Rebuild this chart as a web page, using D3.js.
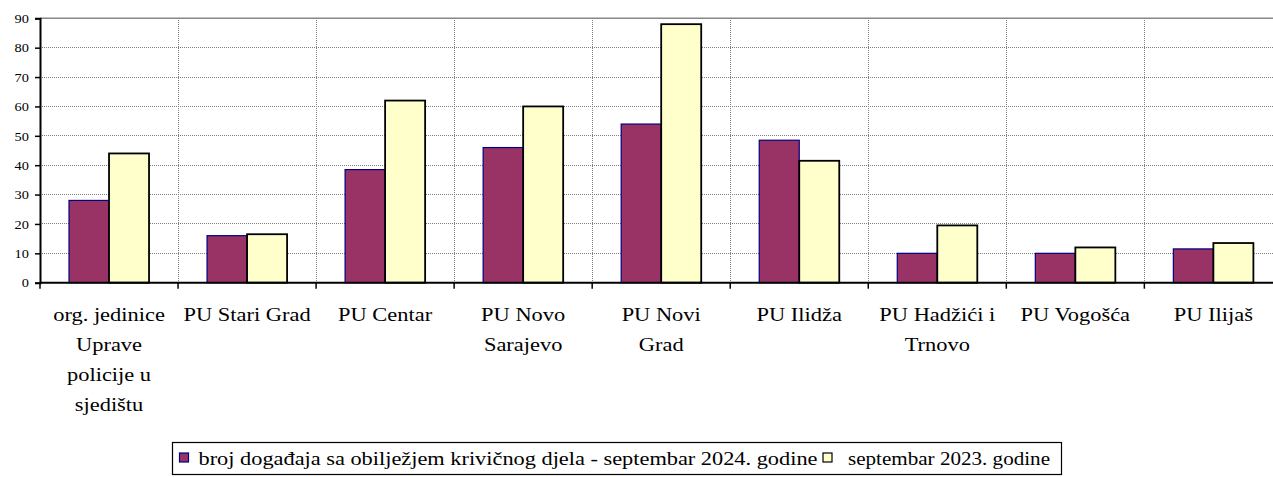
<!DOCTYPE html>
<html>
<head>
<meta charset="utf-8">
<script src="https://cdn.jsdelivr.net/npm/d3@7"></script>
<style>
  html, body { margin: 0; padding: 0; background: #fff; }
  svg { display: block; }
</style>
</head>
<body>
<svg id="chart" width="1273" height="477" font-family="Liberation Serif, DejaVu Serif, serif"></svg>
<script>
// ---- data ----
const categories = [
  "org. jedinice Uprave policije u sjedištu",
  "PU Stari Grad",
  "PU Centar",
  "PU Novo Sarajevo",
  "PU Novi Grad",
  "PU Ilidža",
  "PU Hadžići i Trnovo",
  "PU Vogošća",
  "PU Ilijaš"
];
const categoryLines = [
  ["org. jedinice", "Uprave", "policije u", "sjedištu"],
  ["PU Stari Grad"],
  ["PU Centar"],
  ["PU Novo", "Sarajevo"],
  ["PU Novi", "Grad"],
  ["PU Ilidža"],
  ["PU Hadžići i", "Trnovo"],
  ["PU Vogošća"],
  ["PU Ilijaš"]
];
const seriesNames = [
  "broj događaja sa obilježjem krivičnog djela - septembar 2024. godine",
  "septembar 2023. godine"
];
const values2024 = [28, 16, 38.5, 46, 54, 48.5, 10, 10, 11.5];
const values2023 = [44, 16.5, 62, 60, 88, 41.5, 19.5, 12, 13.5];
const yTicks = [0, 10, 20, 30, 40, 50, 60, 70, 80, 90];

// ---- layout ----
const FONT = "Liberation Serif, DejaVu Serif, serif";
const svg = d3.select("#chart");
const plotLeft = 40, plotRight = 1282.4, plotTop = 18.3, plotBottom = 282.7;
const stretch = 1.2;

const x0 = d3.scaleBand().domain(categories).range([plotLeft, plotRight]).paddingInner(0).paddingOuter(0);
const x1 = d3.scaleBand().domain([0, 1]).range([0, x0.bandwidth()]).paddingInner(0).paddingOuter(0.725);
const y = d3.scaleLinear().domain([0, 90]).range([plotBottom, plotTop]);

const fills = ["#993366", "#FFFFCC"];
const strokes = ["#000080", "#000000"];
const strokeW = [1.2, 1.8];

// gridlines horizontal
svg.append("g").selectAll("line").data(yTicks.filter(d => d > 0 && d < 90)).join("line")
  .attr("x1", plotLeft).attr("x2", plotRight)
  .attr("y1", d => y(d)).attr("y2", d => y(d))
  .attr("stroke", "#808080").attr("stroke-width", 1).attr("stroke-dasharray", "1,1")
  .attr("shape-rendering", "crispEdges");
// top border line
svg.append("line").attr("x1", plotLeft).attr("x2", plotRight).attr("y1", y(90)).attr("y2", y(90))
  .attr("stroke", "#888").attr("stroke-width", 1.5);
// vertical gridlines at category boundaries
const bounds = categories.slice(1).map(c => x0(c));
svg.append("g").selectAll("line").data(bounds).join("line")
  .attr("x1", d => d).attr("x2", d => d)
  .attr("y1", plotTop).attr("y2", plotBottom)
  .attr("stroke", "#808080").attr("stroke-width", 1).attr("stroke-dasharray", "1,1")
  .attr("shape-rendering", "crispEdges");

// bars
const data = categories.map((c, i) => ({ c, v: [values2024[i], values2023[i]] }));
const groups = svg.append("g").selectAll("g").data(data).join("g")
  .attr("transform", d => `translate(${x0(d.c)},0)`);
groups.selectAll("rect").data(d => d.v.map((v, k) => ({ v, k }))).join("rect")
  .attr("x", d => x1(d.k))
  .attr("width", x1.bandwidth())
  .attr("y", d => y(d.v))
  .attr("height", d => y(0) - y(d.v))
  .attr("fill", d => fills[d.k])
  .attr("stroke", d => strokes[d.k])
  .attr("stroke-width", d => strokeW[d.k]);

// y axis
const yAxis = svg.append("g").attr("transform", `translate(${plotLeft},0)`)
  .call(d3.axisLeft(y).tickValues(yTicks).tickSize(5).tickPadding(7).tickFormat(d3.format("d")));
yAxis.attr("font-family", FONT);
yAxis.select(".domain").attr("stroke", "#000").attr("stroke-width", 2);
yAxis.selectAll(".tick line").attr("stroke", "#000").attr("stroke-width", 1.5);
yAxis.selectAll(".tick text").each(function () {
  d3.select(this).attr("font-family", FONT).attr("font-size", 12).attr("dy", "0.35em").attr("fill", "#000")
   .attr("transform", `translate(-11,0) scale(${stretch},1)`).attr("x", 0);
});

// x axis
const xAxis = svg.append("g").attr("transform", `translate(0,${plotBottom})`);
xAxis.append("line").attr("x1", plotLeft).attr("x2", plotRight).attr("y1", 0).attr("y2", 0)
  .attr("stroke", "#000").attr("stroke-width", 2);
xAxis.selectAll("line.tk").data([plotLeft, ...bounds, plotRight]).join("line").attr("class", "tk")
  .attr("x1", d => d).attr("x2", d => d).attr("y1", 0).attr("y2", 6)
  .attr("stroke", "#000").attr("stroke-width", 1.5);

// category labels
categories.forEach((c, i) => {
  const cx = x0(c) + x0.bandwidth() / 2;
  const g = svg.append("g").attr("transform", `translate(${cx},0) scale(${stretch},1)`);
  categoryLines[i].forEach((line, j) => {
    g.append("text").attr("x", 0).attr("y", 321.5 + j * 30).attr("font-family", FONT)
      .attr("text-anchor", "middle").attr("font-size", 18.7).text(line);
  });
});

// legend
const lg = svg.append("g");
lg.append("rect").attr("x", 172.5).attr("y", 442.5).attr("width", 889).attr("height", 32)
  .attr("fill", "#fff").attr("stroke", "#000").attr("stroke-width", 1.2);
const legX = [179.5, 823];
const legTx = [198.5, 848];
const legLen = [619, 202];
seriesNames.forEach((s, k) => {
  lg.append("rect").attr("x", legX[k]).attr("y", 453).attr("width", 9).attr("height", 9)
    .attr("fill", fills[k]).attr("stroke", strokes[k]).attr("stroke-width", 1.2);
  lg.append("text").attr("x", legTx[k]).attr("y", 465).attr("font-family", FONT)
    .attr("font-size", 19).attr("textLength", legLen[k]).attr("lengthAdjust", "spacingAndGlyphs").text(s);
});
</script>
</body>
</html>
